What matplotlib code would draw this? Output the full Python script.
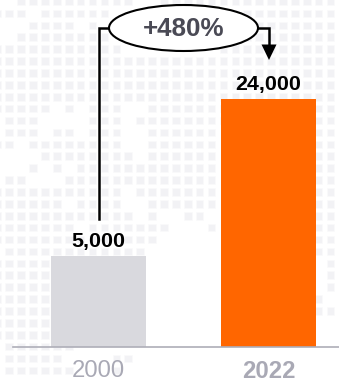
import matplotlib
matplotlib.use("Agg")
import matplotlib.pyplot as plt
from matplotlib.patches import Ellipse, Rectangle, Polygon
from matplotlib.collections import PatchCollection

plt.rcParams['font.family'] = ['Liberation Sans', 'DejaVu Sans']

categories = ["2000", "2022"]
value_labels = ["5,000", "24,000"]
# The reference does not draw the bars to scale: the 5,000 bar is drawn much taller
# than its value, so heights are read from the picture on the 24,000 bar's scale.
drawn_heights = [8800, 24000]
bar_colors = ["#d9d9de", "#ff6600"]
change_label = "+480%"

# Decorative dotted-map background: inclusive column ranges for each row
dot_rows = [
    [(2, 11), (14, 28)], [(0, 2), (4, 9), (20, 28)], [(3, 6), (8, 8), (22, 28)],
    [(2, 9), (21, 28)], [(0, 10), (19, 28)], [(0, 28)], [(0, 28)], [(0, 28)], [(0, 28)],
    [(0, 4), (6, 6), (8, 10), (13, 28)], [(1, 3), (8, 10), (12, 28)],
    [(1, 3), (5, 6), (8, 10), (13, 18), (27, 28)],
    [(0, 1), (3, 10), (13, 18), (27, 28)], [(4, 11), (13, 18), (27, 28)],
    [(3, 3), (5, 5), (7, 18), (27, 28)], [(1, 2), (6, 18), (27, 28)],
    [(0, 10), (12, 18), (27, 28)], [(0, 5), (7, 10), (13, 18), (27, 28)],
    [(0, 11), (13, 13), (16, 17), (27, 28)], [(0, 6), (8, 14), (18, 18), (27, 28)],
    [(0, 13), (27, 28)], [(1, 12), (27, 28)], [(0, 4), (28, 28)], [(0, 4), (28, 28)],
    [(0, 4), (28, 28)], [(0, 4), (27, 27)], [(0, 4), (27, 28)], [(0, 4)], [(0, 7)],
    [(1, 6)], [(1, 5), (10, 11)], [(1, 6), (10, 10)],
]

W, H = 339, 383
fig = plt.figure(figsize=(W / 100, H / 100), dpi=100, facecolor="white")

# Background layer in pixel coordinates
bg = fig.add_axes([0, 0, 1, 1], zorder=0)
bg.set_xlim(0, W); bg.set_ylim(H, 0); bg.axis("off")
PITCH, X0, Y0, SIZE = 11.9, -2.7, 1.5, 7.6
rects = []
for r, spans in enumerate(dot_rows):
    for a, b in spans:
        for c in range(a, b + 1):
            rects.append(Rectangle((X0 + c * PITCH - SIZE / 2, Y0 + r * PITCH - SIZE / 2), SIZE, SIZE))
bg.add_collection(PatchCollection(rects, facecolor="#f2f2f5", edgecolor="#fafafb", linewidth=0.5))

# Chart layer
left, right, base = 13, 339, 347
ax = fig.add_axes([left / W, (H - base) / H, (right - left) / W, base / H], zorder=1)
ax.patch.set_alpha(0)
x = range(len(categories))
ax.bar(x, drawn_heights, width=0.559, color=bar_colors, linewidth=0)
ax.set_xlim(-0.503, 1.415)
ax.set_ylim(0, 24000 * base / 248)
ax.set_yticks([])
ax.set_xticks(list(x), categories, fontsize=17.2, color="#a9a9b5")
ax.get_xticklabels()[1].set_fontweight("bold")
ax.tick_params(axis="x", length=0, pad=9.5)
for s in ("top", "left", "right"):
    ax.spines[s].set_visible(False)
ax.spines["bottom"].set_color("#aeaeb8")
ax.spines["bottom"].set_linewidth(1.2)
for i, h, t in zip(x, drawn_heights, value_labels):
    ax.annotate(t, (i, h), xytext=(0, 6.5), textcoords="offset points", ha="center",
                va="baseline", fontsize=15.4, fontweight="bold", color="black")

# Growth bracket layer
top = fig.add_axes([0, 0, 1, 1], zorder=2)
top.set_xlim(0, W); top.set_ylim(H, 0); top.axis("off")
lw = 1.8
top.plot([98.5, 98.5, 115], [219, 28, 28], color="black", lw=lw, solid_joinstyle="miter")
top.plot([250, 268.5, 268.5], [28, 28, 46], color="black", lw=lw, solid_joinstyle="miter")
top.add_patch(Polygon([[261.5, 44.5], [276.5, 44.5], [269, 60]], closed=True, facecolor="black", edgecolor="none"))
top.add_patch(Ellipse((183.5, 28), 149, 46, facecolor="white", edgecolor="black", lw=1.5, zorder=3))
top.text(183.5, 29.5, change_label, ha="center", va="center", fontsize=18.7, fontweight="bold",
         color="#4a4a55", zorder=4)

fig.savefig("out.png", dpi=100)
